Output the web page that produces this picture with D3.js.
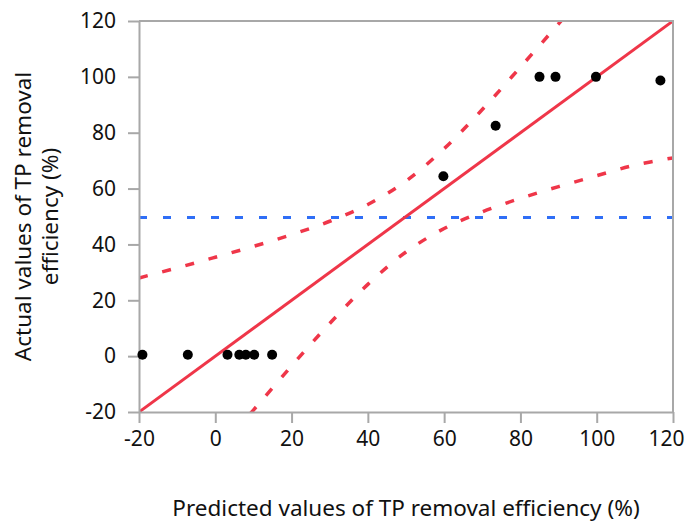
<!DOCTYPE html>
<html>
<head>
<meta charset="utf-8">
<script src="https://cdn.jsdelivr.net/npm/d3@7"></script>
<style>
    body { margin: 0; background: #fff; }
    text { font-family: "Noto Sans", "Open Sans", sans-serif; fill: #111; }
</style>
</head>
<body>
<div class="leverage-chart"></div>
<script>
// observed points: predicted (x) vs actual (y)
const predicted = [-19.1, -7.2, 3.2, 6.3, 8.0, 10.2, 14.9, 59.8, 73.5, 85.0, 89.2, 99.8, 116.7]
const actual = [0.5, 0.5, 0.5, 0.5, 0.5, 0.5, 0.5, 64.4, 82.5, 100, 100, 100, 98.7]
// fit line
const fitX = [-20, 120]
const fitY = [-20, 120]
// confidence curves
const upperX = [-20, -10, 0, 10, 20, 30, 40, 50, 60, 70, 80, 90, 95]
const upperY = [28, 31.6, 35.4, 39.3, 43.5, 48.3, 54.3, 62.7, 74.3, 88.3, 103.5, 119, 127]
const lowerX = [5, 10, 20, 30, 40, 50, 60, 70, 80, 90, 100, 110, 120]
const lowerY = [-27, -19.3, -3.5, 11.7, 25.7, 37.3, 45.7, 51.7, 56.5, 60.7, 64.6, 68.4, 71]
// mean line
const meanY = 49.6
const xTickValues = [-20, 0, 20, 40, 60, 80, 100, 120]
const yTickValues = [-20, 0, 20, 40, 60, 80, 100, 120]

let width = 687, height = 522
let plotLeft = 139, plotRight = 673, plotTop = 21, plotBottom = 412
let axisColor = "#a8a8a8", red = "#ef3649", blue = "#2f6ef6"
let fontFamily = '"Noto Sans", "Open Sans", sans-serif'

let svg = d3.select(".leverage-chart")
    .append("svg")
    .attr("width", width)
    .attr("height", height)

let xScale = d3.scaleLinear().domain([-20, 120]).range([plotLeft, plotRight])
let yScale = d3.scaleLinear().domain([-20, 120]).range([plotBottom, plotTop])

svg.append("clipPath")
    .attr("id", "plot-clip")
    .append("rect")
    .attr("x", plotLeft)
    .attr("y", plotTop)
    .attr("width", plotRight - plotLeft)
    .attr("height", plotBottom - plotTop)

let plot = svg.append("g").attr("clip-path", "url(#plot-clip)")

// top and right frame
svg.append("path")
    .attr("fill", "none")
    .attr("stroke", axisColor)
    .attr("stroke-width", 2)
    .attr("d", `M${plotLeft},${plotTop} H${plotRight} V${plotBottom}`)

// axes (plain hyphen for negatives, like the original)
let xAxis = svg.append("g")
    .attr("transform", `translate(0,${plotBottom})`)
    .call(d3.axisBottom(xScale).tickValues(xTickValues).tickFormat((d) => String(d))
        .tickSize(11).tickSizeOuter(0).tickPadding(8))
let yAxis = svg.append("g")
    .attr("transform", `translate(${plotLeft},0)`)
    .call(d3.axisLeft(yScale).tickValues(yTickValues).tickFormat((d) => String(d))
        .tickSize(11).tickSizeOuter(0).tickPadding(12))
;[xAxis, yAxis].forEach((ax) => {
    ax.select(".domain").attr("stroke", axisColor).attr("stroke-width", 2)
    ax.selectAll(".tick line").attr("stroke", axisColor).attr("stroke-width", 2)
    ax.selectAll(".tick text")
        .attr("font-size", 21)
        .attr("fill", "#111")
        .style("font-family", fontFamily)
})
// last x label is pulled in so it stays inside the page
xAxis.selectAll(".tick text").filter((d) => d === 120).attr("x", -7)

// mean line
plot.append("path")
    .attr("fill", "none")
    .attr("stroke", blue)
    .attr("stroke-width", 3)
    .attr("stroke-dasharray", "8,16")
    .attr("d", `M${plotLeft},${yScale(meanY)} H${plotRight}`)

// confidence curves
let curveLine = d3.line()
    .x((d) => xScale(d[0]))
    .y((d) => yScale(d[1]))
    .curve(d3.curveCatmullRom)
;[[upperX, upperY], [lowerX, lowerY]].forEach(([xs, ys]) => {
    plot.append("path")
        .attr("fill", "none")
        .attr("stroke", red)
        .attr("stroke-width", 3.5)
        .attr("stroke-dasharray", "9,15")
        .attr("d", curveLine(xs.map((x, i) => [x, ys[i]])))
})

// fit line
plot.append("path")
    .attr("fill", "none")
    .attr("stroke", red)
    .attr("stroke-width", 3)
    .attr("d", d3.line().x((d) => xScale(d[0])).y((d) => yScale(d[1]))(fitX.map((x, i) => [x, fitY[i]])))

// points
svg.append("g")
    .selectAll("circle")
    .data(predicted)
    .enter()
    .append("circle")
    .attr("cx", (d) => xScale(d))
    .attr("cy", (d, i) => yScale(actual[i]))
    .attr("r", 5)
    .attr("fill", "#000")

// axis titles
svg.append("text")
    .attr("font-size", 22.5)
    .attr("text-anchor", "middle")
    .attr("x", (plotLeft + plotRight) / 2)
    .attr("y", 516)
    .text("Predicted values of TP removal efficiency (%)")

let yTitle = svg.append("text")
    .attr("font-size", 22.5)
    .attr("text-anchor", "middle")
    .attr("transform", `translate(0,${(plotTop + plotBottom) / 2}) rotate(-90)`)
yTitle.append("tspan").attr("x", 0).attr("y", 31).text("Actual values of TP removal")
yTitle.append("tspan").attr("x", 0).attr("y", 58).text("efficiency (%)")
</script>
</body>
</html>
